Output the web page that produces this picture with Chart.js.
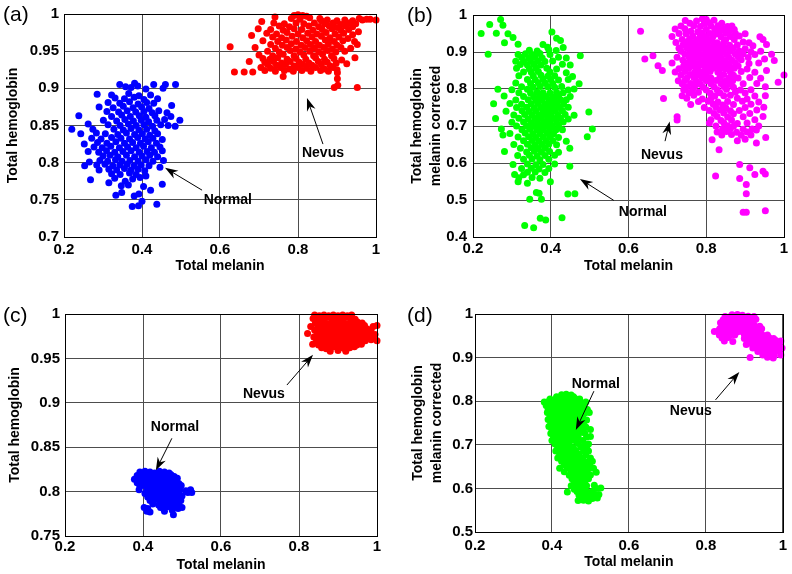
<!DOCTYPE html>
<html>
<head>
<meta charset="utf-8">
<script src="https://cdn.jsdelivr.net/npm/chart.js@4.4.0/dist/chart.umd.min.js"></script>
<style>
  html, body { margin: 0; padding: 0; background: #fff; }
  body { width: 792px; height: 574px; position: relative; overflow: hidden; }
  canvas { position: absolute; }
  .tag { position: absolute; font: 21px "Liberation Sans", Arial, sans-serif; line-height: 24px; color: #000; }
</style>
</head>
<body>
<canvas id="chart-a" width="396" height="287" style="left:0;top:0"></canvas>
<canvas id="chart-b" width="396" height="287" style="left:396px;top:0"></canvas>
<canvas id="chart-c" width="396" height="287" style="left:0;top:287px"></canvas>
<canvas id="chart-d" width="396" height="287" style="left:396px;top:287px"></canvas>
<div class="tag" style="left:3px;top:2px">(a)</div>
<div class="tag" style="left:407px;top:3px">(b)</div>
<div class="tag" style="left:3px;top:303px">(c)</div>
<div class="tag" style="left:407px;top:303px">(d)</div>
<script>
// [total melanin, total hemoglobin] pairs

const normalA = [
  [0.343,0.905],[0.381,0.907],[0.43,0.905],[0.46,0.905],[0.486,0.905],
  [0.358,0.902],[0.372,0.901],[0.389,0.903],[0.41,0.899],[0.454,0.9],
  [0.285,0.892],[0.322,0.891],[0.366,0.893],[0.392,0.89],[0.422,0.891],
  [0.331,0.887],[0.355,0.886],[0.38,0.888],[0.405,0.885],[0.44,0.886],
  [0.313,0.881],[0.343,0.88],[0.368,0.882],[0.39,0.879],[0.412,0.881],[0.43,0.88],
  [0.29,0.875],[0.326,0.874],[0.352,0.876],[0.377,0.874],[0.399,0.875],[0.418,0.873],[0.476,0.877],
  [0.31,0.869],[0.34,0.868],[0.362,0.87],[0.384,0.868],[0.405,0.869],[0.426,0.867],[0.443,0.87],[0.464,0.867],
  [0.238,0.863],[0.322,0.862],[0.348,0.864],[0.37,0.862],[0.393,0.863],[0.41,0.861],[0.433,0.863],[0.474,0.862],
  [0.262,0.852],[0.301,0.857],[0.335,0.856],[0.356,0.858],[0.378,0.856],[0.398,0.857],[0.417,0.855],[0.438,0.857],[0.458,0.858],[0.497,0.857],
  [0.313,0.851],[0.344,0.85],[0.365,0.852],[0.385,0.85],[0.405,0.851],[0.427,0.849],[0.448,0.851],[0.467,0.85],
  [0.22,0.845],[0.274,0.845],[0.328,0.845],[0.352,0.844],[0.372,0.846],[0.392,0.844],[0.412,0.845],[0.433,0.843],[0.485,0.849],
  [0.243,0.839],[0.283,0.84],[0.306,0.839],[0.338,0.838],[0.36,0.84],[0.381,0.838],[0.401,0.839],[0.42,0.837],[0.44,0.839],
  [0.271,0.833],[0.295,0.832],[0.322,0.834],[0.346,0.833],[0.368,0.832],[0.389,0.834],[0.408,0.832],[0.428,0.833],[0.452,0.831],
  [0.252,0.825],[0.286,0.827],[0.31,0.826],[0.333,0.828],[0.355,0.826],[0.376,0.827],[0.396,0.826],[0.416,0.828],[0.437,0.826],
  [0.277,0.821],[0.298,0.82],[0.32,0.822],[0.342,0.82],[0.363,0.821],[0.385,0.82],[0.404,0.822],[0.424,0.82],[0.446,0.821],
  [0.262,0.815],[0.289,0.814],[0.309,0.816],[0.33,0.814],[0.351,0.815],[0.372,0.816],[0.393,0.814],[0.413,0.815],[0.432,0.814],[0.452,0.816],
  [0.3,0.809],[0.318,0.81],[0.338,0.808],[0.36,0.81],[0.381,0.808],[0.4,0.809],[0.42,0.81],[0.44,0.808],
  [0.265,0.801],[0.292,0.803],[0.312,0.802],[0.332,0.804],[0.349,0.802],[0.369,0.803],[0.39,0.802],[0.41,0.804],[0.428,0.802],[0.455,0.803],
  [0.253,0.796],[0.284,0.797],[0.305,0.798],[0.325,0.796],[0.343,0.797],[0.362,0.798],[0.38,0.796],[0.398,0.797],[0.418,0.796],[0.446,0.794],
  [0.29,0.79],[0.315,0.791],[0.335,0.79],[0.355,0.792],[0.372,0.79],[0.39,0.791],[0.407,0.789],
  [0.322,0.785],[0.344,0.784],[0.368,0.786],[0.385,0.784],[0.41,0.782],
  [0.268,0.777],[0.33,0.779],[0.376,0.778],[0.395,0.78],
  [0.315,0.773],[0.357,0.775],[0.452,0.771],[0.347,0.769],[0.365,0.77],[0.404,0.768],
  [0.422,0.763],[0.333,0.756],[0.348,0.76],[0.392,0.758],
  [0.38,0.755],[0.4,0.748],[0.438,0.744],[0.375,0.741],[0.391,0.742]
];

const nevusA = [
  [0.79,0.998],[0.8,0.999],[0.812,0.998],[0.822,0.997],
  [0.741,0.996],[0.783,0.994],[0.805,0.993],[0.83,0.995],[0.856,0.994],[0.957,0.994],[0.976,0.993],
  [0.86,0.991],[0.875,0.992],[0.9,0.991],[0.92,0.992],[0.94,0.991],[0.965,0.992],[0.985,0.993],[1.0,0.992],
  [0.738,0.988],[0.765,0.987],[0.795,0.988],[0.815,0.987],[0.842,0.988],[0.868,0.987],[0.89,0.988],[0.91,0.986],[0.93,0.988],[0.948,0.987],
  [0.707,0.99],[0.752,0.984],[0.778,0.983],[0.828,0.984],[0.853,0.983],[0.88,0.984],[0.9,0.982],[0.922,0.984],[0.94,0.983],
  [0.698,0.98],[0.73,0.979],[0.762,0.978],[0.79,0.98],[0.81,0.979],[0.838,0.978],[0.862,0.979],[0.887,0.98],[0.91,0.978],[0.93,0.979],[0.955,0.976],
  [0.72,0.974],[0.745,0.973],[0.772,0.975],[0.8,0.973],[0.825,0.974],[0.848,0.973],[0.872,0.975],[0.895,0.973],[0.917,0.974],[0.94,0.972],
  [0.681,0.971],[0.735,0.969],[0.758,0.968],[0.785,0.97],[0.812,0.968],[0.836,0.969],[0.86,0.97],[0.882,0.968],[0.905,0.969],[0.928,0.967],
  [0.71,0.964],[0.748,0.963],[0.77,0.965],[0.796,0.963],[0.822,0.964],[0.845,0.963],[0.87,0.965],[0.893,0.963],[0.915,0.964],[0.945,0.963],
  [0.73,0.959],[0.76,0.958],[0.783,0.96],[0.808,0.958],[0.832,0.959],[0.855,0.958],[0.878,0.96],[0.9,0.958],[0.952,0.959],
  [0.626,0.956],[0.69,0.955],[0.742,0.954],[0.772,0.955],[0.795,0.953],[0.818,0.955],[0.842,0.954],[0.866,0.955],[0.888,0.953],[0.91,0.955],[0.935,0.954],
  [0.722,0.95],[0.752,0.949],[0.78,0.951],[0.805,0.949],[0.83,0.95],[0.853,0.949],[0.876,0.951],[0.897,0.949],[0.92,0.95],
  [0.7,0.945],[0.735,0.944],[0.762,0.946],[0.79,0.944],[0.815,0.945],[0.84,0.944],[0.863,0.946],[0.886,0.944],[0.946,0.941],
  [0.71,0.94],[0.728,0.939],[0.748,0.941],[0.772,0.939],[0.795,0.94],[0.82,0.939],[0.845,0.941],[0.868,0.939],[0.892,0.94],[0.912,0.938],
  [0.675,0.936],[0.715,0.935],[0.737,0.936],[0.758,0.934],[0.78,0.936],[0.803,0.935],[0.828,0.934],[0.852,0.936],[0.875,0.935],[0.898,0.934],
  [0.722,0.932],[0.745,0.931],[0.768,0.932],[0.79,0.93],[0.812,0.932],[0.836,0.931],[0.86,0.932],[0.883,0.93],[0.925,0.933],
  [0.705,0.928],[0.73,0.927],[0.755,0.928],[0.778,0.926],[0.8,0.928],[0.822,0.927],[0.845,0.928],[0.868,0.926],[0.89,0.928],
  [0.715,0.924],[0.742,0.923],[0.765,0.924],[0.788,0.923],[0.81,0.924],[0.833,0.923],[0.858,0.924],[0.878,0.923],[0.9,0.925],
  [0.637,0.922],[0.662,0.922],[0.684,0.922],[0.901,0.921],
  [0.762,0.916],[0.901,0.913],[0.902,0.904],[0.893,0.901],[0.952,0.901]
];

const normalB = [
  [0.271,0.988],[0.243,0.974],[0.277,0.972],[0.403,0.954],[0.221,0.95],[0.26,0.951],[0.29,0.949],[0.303,0.939],[0.415,0.937],[0.425,0.931],
  [0.281,0.925],[0.316,0.921],[0.38,0.92],[0.432,0.912],[0.392,0.913],
  [0.345,0.905],[0.365,0.903],[0.395,0.906],[0.414,0.904],
  [0.239,0.894],[0.316,0.893],[0.335,0.895],[0.352,0.893],[0.372,0.896],[0.398,0.893],[0.476,0.89],
  [0.325,0.885],[0.343,0.884],[0.36,0.886],[0.378,0.884],[0.42,0.886],[0.44,0.884],
  [0.31,0.875],[0.33,0.874],[0.348,0.876],[0.366,0.875],[0.385,0.874],[0.405,0.876],
  [0.322,0.866],[0.34,0.865],[0.357,0.867],[0.375,0.865],[0.43,0.867],[0.45,0.865],
  [0.312,0.856],[0.345,0.855],[0.362,0.857],[0.39,0.856],[0.415,0.854],
  [0.33,0.846],[0.35,0.845],[0.368,0.847],[0.398,0.846],[0.44,0.844],
  [0.318,0.836],[0.355,0.835],[0.375,0.837],[0.393,0.835],[0.41,0.836],[0.456,0.834],
  [0.34,0.826],[0.36,0.825],[0.38,0.827],[0.4,0.826],[0.42,0.824],[0.445,0.826],
  [0.31,0.816],[0.348,0.815],[0.368,0.817],[0.386,0.816],[0.405,0.815],[0.473,0.814],
  [0.325,0.806],[0.355,0.805],[0.373,0.807],[0.392,0.806],[0.41,0.805],[0.428,0.807],
  [0.264,0.799],[0.3,0.798],[0.34,0.799],[0.445,0.797],[0.46,0.8],
  [0.318,0.79],[0.348,0.789],[0.365,0.791],[0.38,0.79],[0.398,0.789],[0.415,0.791],[0.432,0.79],
  [0.28,0.781],[0.33,0.78],[0.356,0.779],[0.372,0.781],[0.388,0.78],[0.405,0.779],[0.42,0.781],[0.45,0.78],
  [0.31,0.77],[0.342,0.771],[0.362,0.769],[0.378,0.77],[0.395,0.771],[0.41,0.769],[0.426,0.77],[0.44,0.771],
  [0.253,0.76],[0.295,0.761],[0.325,0.759],[0.35,0.76],[0.368,0.761],[0.385,0.759],[0.4,0.76],[0.416,0.761],[0.433,0.759],
  [0.312,0.75],[0.338,0.751],[0.357,0.749],[0.374,0.75],[0.39,0.751],[0.405,0.749],[0.422,0.75],[0.445,0.751],
  [0.285,0.74],[0.326,0.741],[0.345,0.739],[0.362,0.74],[0.38,0.741],[0.396,0.739],[0.412,0.74],[0.43,0.741],[0.498,0.738],
  [0.305,0.73],[0.333,0.731],[0.352,0.729],[0.37,0.73],[0.385,0.731],[0.4,0.729],[0.418,0.73],[0.437,0.731],[0.46,0.729],
  [0.258,0.72],[0.318,0.721],[0.342,0.719],[0.36,0.72],[0.376,0.721],[0.392,0.719],[0.408,0.72],[0.425,0.721],[0.445,0.719],
  [0.3,0.71],[0.33,0.711],[0.35,0.709],[0.366,0.71],[0.382,0.711],[0.398,0.709],[0.415,0.71],[0.432,0.711],
  [0.312,0.7],[0.338,0.701],[0.356,0.699],[0.372,0.7],[0.388,0.701],[0.404,0.699],[0.42,0.7],
  [0.273,0.692],[0.507,0.692],
  [0.326,0.69],[0.346,0.691],[0.364,0.689],[0.38,0.69],[0.397,0.691],[0.413,0.689],[0.43,0.69],
  [0.295,0.68],[0.334,0.681],[0.354,0.679],[0.372,0.68],[0.39,0.681],[0.407,0.679],
  [0.277,0.676],[0.494,0.671],
  [0.316,0.67],[0.343,0.671],[0.362,0.669],[0.38,0.67],[0.397,0.671],[0.42,0.669],
  [0.33,0.66],[0.352,0.661],[0.37,0.659],[0.388,0.66],[0.405,0.661],[0.44,0.659],
  [0.305,0.65],[0.34,0.651],[0.36,0.649],[0.378,0.65],[0.395,0.651],[0.415,0.649],
  [0.322,0.64],[0.35,0.641],[0.368,0.639],[0.386,0.64],[0.449,0.64],
  [0.281,0.631],[0.338,0.63],[0.358,0.632],[0.376,0.63],[0.397,0.631],[0.42,0.629],
  [0.315,0.62],[0.345,0.621],[0.365,0.619],[0.385,0.62],[0.41,0.621],
  [0.33,0.61],[0.352,0.611],[0.372,0.609],[0.395,0.61],
  [0.303,0.596],[0.34,0.597],[0.362,0.595],[0.38,0.596],[0.41,0.597],[0.449,0.591],
  [0.325,0.585],[0.35,0.586],[0.37,0.584],[0.395,0.585],
  [0.34,0.575],[0.36,0.576],[0.385,0.574],[0.307,0.569],[0.33,0.568],
  [0.318,0.56],[0.352,0.561],[0.372,0.559],[0.316,0.549],[0.399,0.549],[0.34,0.545],
  [0.363,0.52],[0.37,0.518],[0.462,0.517],[0.444,0.516],[0.346,0.502],[0.376,0.502],
  [0.429,0.452],[0.373,0.451],[0.387,0.446],[0.333,0.431],[0.356,0.425]
];

const nevusB = [
  [0.79,0.99],[0.8,0.988],[0.746,0.985],[0.775,0.984],[0.82,0.986],
  [0.758,0.978],[0.795,0.977],[0.808,0.979],[0.84,0.978],
  [0.735,0.97],[0.768,0.971],[0.785,0.969],[0.812,0.97],[0.83,0.971],[0.855,0.969],[0.866,0.97],
  [0.72,0.962],[0.745,0.963],[0.8,0.961],[0.822,0.962],[0.845,0.963],[0.872,0.961],
  [0.631,0.956],[0.76,0.956],[0.778,0.955],[0.835,0.957],[0.858,0.955],
  [0.73,0.95],[0.748,0.949],[0.79,0.951],[0.81,0.95],[0.826,0.949],[0.85,0.951],[0.875,0.95],[0.9,0.949],
  [0.712,0.942],[0.765,0.943],[0.784,0.941],[0.8,0.942],[0.818,0.943],[0.838,0.941],[0.862,0.942],[0.885,0.943],[0.938,0.941],
  [0.738,0.934],[0.757,0.935],[0.775,0.933],[0.795,0.934],[0.815,0.935],[0.85,0.933],[0.872,0.934],[0.946,0.934],
  [0.722,0.926],[0.748,0.927],[0.768,0.925],[0.788,0.926],[0.806,0.927],[0.828,0.925],[0.845,0.926],[0.895,0.927],[0.91,0.925],
  [0.955,0.92],
  [0.74,0.918],[0.76,0.919],[0.778,0.917],[0.798,0.918],[0.82,0.919],[0.838,0.917],[0.86,0.918],[0.88,0.919],[0.92,0.917],
  [0.73,0.91],[0.75,0.911],[0.77,0.909],[0.79,0.91],[0.81,0.911],[0.83,0.909],[0.85,0.91],[0.87,0.911],[0.9,0.909],
  [0.735,0.902],[0.758,0.903],[0.78,0.901],[0.8,0.902],[0.82,0.903],[0.842,0.901],[0.862,0.902],[0.885,0.903],[0.915,0.901],[0.94,0.902],
  [0.745,0.894],[0.768,0.895],[0.79,0.893],[0.81,0.894],[0.83,0.895],[0.852,0.893],[0.875,0.894],[0.895,0.895],[0.925,0.893],[0.968,0.894],
  [0.663,0.89],
  [0.725,0.886],[0.755,0.887],[0.778,0.885],[0.8,0.886],[0.82,0.887],[0.838,0.885],[0.858,0.886],[0.882,0.887],[0.908,0.885],
  [0.642,0.881],[0.95,0.881],
  [0.74,0.878],[0.765,0.879],[0.788,0.877],[0.808,0.878],[0.826,0.879],[0.845,0.877],[0.866,0.878],[0.89,0.879],[0.975,0.877],
  [0.712,0.87],[0.752,0.871],[0.775,0.869],[0.795,0.87],[0.815,0.871],[0.833,0.869],[0.852,0.87],[0.875,0.871],[0.91,0.869],[0.935,0.87],
  [0.676,0.863],[0.742,0.863],[0.765,0.862],[0.785,0.864],[0.805,0.863],[0.822,0.862],[0.84,0.864],[0.86,0.863],[0.882,0.862],
  [0.73,0.855],[0.755,0.856],[0.778,0.854],[0.798,0.855],[0.818,0.856],[0.835,0.854],[0.85,0.855],[0.872,0.856],[0.905,0.854],
  [0.687,0.85],[0.955,0.85],
  [0.72,0.846],[0.745,0.847],[0.77,0.845],[0.79,0.846],[0.81,0.847],[0.83,0.845],[0.862,0.846],[0.89,0.847],[0.925,0.845],
  [0.735,0.838],[0.758,0.839],[0.782,0.837],[0.8,0.838],[0.845,0.839],[0.87,0.837],[1.0,0.838],
  [0.75,0.83],[0.768,0.831],[0.79,0.829],[0.812,0.83],[0.835,0.831],[0.858,0.829],[0.882,0.83],[0.912,0.831],[0.94,0.829],
  [0.728,0.822],[0.745,0.823],[0.775,0.821],[0.8,0.822],[0.825,0.823],[0.848,0.821],[0.868,0.822],
  [0.985,0.818],
  [0.738,0.814],[0.76,0.815],[0.785,0.813],[0.812,0.814],[0.838,0.815],[0.86,0.813],[0.895,0.814],[0.93,0.815],
  [0.75,0.806],[0.77,0.807],[0.792,0.805],[0.82,0.806],[0.845,0.807],[0.87,0.805],[0.952,0.806],
  [0.742,0.798],[0.765,0.799],[0.8,0.797],[0.828,0.798],[0.852,0.799],[0.888,0.797],[0.915,0.798],
  [0.755,0.79],[0.78,0.791],[0.81,0.789],[0.835,0.79],[0.875,0.791],[0.9,0.789],
  [0.738,0.782],[0.768,0.783],[0.822,0.781],[0.845,0.782],[0.862,0.783],[0.925,0.781],[0.952,0.782],
  [0.69,0.774],[0.75,0.775],[0.79,0.773],[0.812,0.774],[0.88,0.775],[0.905,0.773],
  [0.78,0.766],[0.805,0.767],[0.83,0.765],[0.855,0.766],[0.893,0.767],[0.935,0.765],
  [0.76,0.758],[0.818,0.759],[0.842,0.757],[0.87,0.758],[0.915,0.759],
  [0.795,0.75],[0.825,0.751],[0.85,0.749],[0.9,0.75],[0.948,0.751],
  [0.808,0.742],[0.835,0.743],[0.862,0.741],[0.885,0.742],[0.93,0.743],
  [0.82,0.734],[0.845,0.735],[0.87,0.733],[0.912,0.734],
  [0.725,0.725],[0.828,0.726],[0.855,0.724],[0.895,0.725],[0.946,0.726],
  [0.725,0.716],[0.812,0.717],[0.838,0.715],[0.865,0.716],[0.925,0.717],
  [0.808,0.708],[0.845,0.709],[0.88,0.707],[0.905,0.708],
  [0.825,0.7],[0.855,0.701],[0.87,0.699],[0.935,0.7],
  [0.842,0.692],[0.862,0.693],[0.895,0.691],[0.918,0.692],[0.929,0.689],
  [0.828,0.684],[0.852,0.685],[0.878,0.683],[0.905,0.684],
  [0.84,0.676],[0.865,0.677],[0.89,0.675],[0.915,0.676],
  [0.953,0.669],[0.815,0.663],[0.9,0.664],[0.88,0.66],[0.929,0.654],[0.833,0.636],
  [0.886,0.596],[0.912,0.587],[0.946,0.578],[0.925,0.569],[0.952,0.57],[0.824,0.565],[0.886,0.558],
  [0.903,0.542],[0.903,0.517],[0.895,0.467],[0.903,0.467],[0.952,0.471]
];

const normalC = [
  [0.392,0.822],[0.405,0.823],[0.418,0.822],[0.43,0.821],[0.442,0.823],[0.455,0.822],[0.467,0.821],
  [0.385,0.818],[0.398,0.817],[0.41,0.818],[0.423,0.819],[0.435,0.818],[0.448,0.817],[0.46,0.818],[0.472,0.819],[0.48,0.817],
  [0.378,0.814],[0.39,0.815],[0.402,0.814],[0.415,0.813],[0.428,0.814],[0.44,0.815],[0.452,0.814],[0.465,0.813],[0.477,0.814],[0.488,0.815],
  [0.385,0.81],[0.396,0.809],[0.408,0.81],[0.42,0.811],[0.432,0.81],[0.445,0.809],[0.457,0.81],[0.47,0.811],[0.482,0.81],[0.492,0.809],
  [0.392,0.806],[0.403,0.807],[0.415,0.806],[0.427,0.805],[0.44,0.806],[0.452,0.807],[0.464,0.806],[0.476,0.805],[0.488,0.806],[0.498,0.807],
  [0.39,0.802],[0.41,0.801],[0.42,0.802],[0.433,0.803],[0.446,0.802],[0.458,0.801],[0.47,0.802],[0.483,0.803],[0.495,0.802],[0.51,0.801],[0.522,0.802],
  [0.515,0.799],[0.525,0.799],
  [0.405,0.798],[0.417,0.797],[0.43,0.798],[0.442,0.799],[0.455,0.798],[0.467,0.797],[0.48,0.798],[0.492,0.799],
  [0.412,0.794],[0.425,0.793],[0.437,0.794],[0.45,0.795],[0.462,0.794],[0.475,0.793],[0.488,0.794],[0.5,0.795],
  [0.418,0.79],[0.432,0.791],[0.445,0.79],[0.458,0.789],[0.47,0.79],[0.483,0.791],[0.497,0.79],
  [0.425,0.786],[0.44,0.785],[0.455,0.786],[0.468,0.787],[0.48,0.786],[0.492,0.785],
  [0.403,0.782],[0.412,0.781],[0.445,0.782],[0.462,0.783],[0.475,0.782],[0.49,0.781],[0.5,0.782],
  [0.41,0.778],[0.418,0.777],[0.455,0.778],[0.475,0.779],[0.478,0.774]
];

const nevusC = [
  [0.84,0.999],[0.852,0.998],[0.864,0.999],[0.876,0.998],[0.888,0.999],[0.9,0.998],[0.912,0.999],[0.924,0.998],[0.935,0.999],
  [0.836,0.995],[0.848,0.994],[0.86,0.995],[0.872,0.996],[0.884,0.995],[0.896,0.994],[0.908,0.995],[0.92,0.996],[0.932,0.995],[0.944,0.994],
  [0.842,0.99],[0.854,0.991],[0.866,0.99],[0.878,0.989],[0.89,0.99],[0.902,0.991],[0.914,0.99],[0.926,0.989],[0.938,0.99],[0.95,0.991],[0.962,0.99],
  [0.83,0.986],[0.848,0.985],[0.86,0.986],[0.872,0.987],[0.884,0.986],[0.896,0.985],[0.908,0.986],[0.92,0.987],[0.932,0.986],[0.944,0.985],[0.956,0.986],[0.968,0.987],[0.99,0.986],[1.0,0.987],
  [0.84,0.982],[0.854,0.981],[0.866,0.982],[0.878,0.983],[0.89,0.982],[0.902,0.981],[0.914,0.982],[0.926,0.983],[0.938,0.982],[0.95,0.981],[0.962,0.982],[0.975,0.983],[0.985,0.982],
  [0.822,0.978],[0.846,0.977],[0.86,0.978],[0.872,0.979],[0.884,0.978],[0.896,0.977],[0.908,0.978],[0.92,0.979],[0.932,0.978],[0.944,0.977],[0.956,0.978],[0.968,0.979],[0.98,0.978],[0.995,0.977],
  [0.838,0.974],[0.852,0.973],[0.866,0.974],[0.878,0.975],[0.89,0.974],[0.902,0.973],[0.914,0.974],[0.926,0.975],[0.938,0.974],[0.95,0.973],[0.962,0.974],[0.975,0.975],[0.99,0.974],
  [0.845,0.97],[0.858,0.969],[0.87,0.97],[0.882,0.971],[0.894,0.97],[0.906,0.969],[0.918,0.97],[0.93,0.971],[0.942,0.97],[0.955,0.969],[0.97,0.97],[0.985,0.971],[1.0,0.97],
  [0.835,0.966],[0.85,0.965],[0.864,0.966],[0.876,0.967],[0.888,0.966],[0.9,0.965],[0.912,0.966],[0.924,0.967],[0.936,0.966],[0.948,0.965],[0.96,0.966],
  [0.858,0.962],[0.87,0.961],[0.882,0.962],[0.894,0.963],[0.906,0.962],[0.918,0.961],[0.93,0.962],[0.942,0.963],
  [0.88,0.958],[0.9,0.959],[0.92,0.958]
];

const normalD = [
  [0.425,0.815],[0.437,0.816],[0.45,0.814],
  [0.412,0.81],[0.43,0.809],[0.443,0.811],[0.456,0.81],
  [0.395,0.805],[0.408,0.804],[0.42,0.806],[0.433,0.805],[0.446,0.804],[0.46,0.806],[0.472,0.805],
  [0.38,0.798],[0.39,0.799],[0.402,0.797],[0.414,0.798],[0.426,0.799],[0.438,0.797],[0.45,0.798],[0.462,0.799],[0.475,0.797],[0.488,0.798],
  [0.385,0.79],[0.398,0.791],[0.41,0.789],[0.422,0.79],[0.434,0.791],[0.446,0.789],[0.458,0.79],[0.47,0.791],[0.482,0.789],
  [0.39,0.782],[0.403,0.783],[0.415,0.781],[0.428,0.782],[0.44,0.783],[0.452,0.781],[0.464,0.782],[0.476,0.783],[0.492,0.781],
  [0.388,0.774],[0.4,0.775],[0.412,0.773],[0.424,0.774],[0.436,0.775],[0.448,0.773],[0.46,0.774],[0.472,0.775],[0.485,0.773],[0.497,0.774],
  [0.395,0.766],[0.407,0.767],[0.419,0.765],[0.431,0.766],[0.443,0.767],[0.455,0.765],[0.467,0.766],[0.48,0.767],
  [0.39,0.758],[0.402,0.759],[0.414,0.757],[0.426,0.758],[0.438,0.759],[0.45,0.757],[0.462,0.758],[0.474,0.759],[0.49,0.757],
  [0.397,0.75],[0.41,0.751],[0.422,0.749],[0.434,0.75],[0.446,0.751],[0.458,0.749],[0.47,0.75],[0.482,0.751],
  [0.392,0.742],[0.404,0.743],[0.416,0.741],[0.428,0.742],[0.44,0.743],[0.452,0.741],[0.464,0.742],[0.476,0.743],[0.488,0.741],
  [0.4,0.734],[0.412,0.735],[0.424,0.733],[0.436,0.734],[0.448,0.735],[0.46,0.733],[0.475,0.734],[0.5,0.735],
  [0.397,0.726],[0.41,0.727],[0.422,0.725],[0.434,0.726],[0.446,0.727],[0.458,0.725],[0.47,0.726],[0.485,0.727],
  [0.404,0.718],[0.416,0.719],[0.428,0.717],[0.44,0.718],[0.455,0.719],[0.468,0.717],[0.49,0.718],[0.5,0.719],
  [0.4,0.71],[0.412,0.711],[0.425,0.709],[0.438,0.71],[0.45,0.711],[0.462,0.709],[0.48,0.71],
  [0.408,0.702],[0.42,0.703],[0.432,0.701],[0.445,0.702],[0.468,0.703],[0.485,0.701],[0.495,0.702],
  [0.415,0.694],[0.428,0.695],[0.44,0.693],[0.455,0.694],[0.475,0.695],[0.49,0.693],
  [0.41,0.686],[0.422,0.687],[0.435,0.685],[0.45,0.686],[0.462,0.687],[0.482,0.685],[0.495,0.686],
  [0.42,0.678],[0.432,0.679],[0.445,0.677],[0.458,0.678],[0.47,0.679],[0.488,0.677],
  [0.415,0.67],[0.43,0.671],[0.442,0.669],[0.455,0.67],[0.468,0.671],[0.48,0.669],[0.5,0.67],
  [0.425,0.662],[0.44,0.663],[0.452,0.661],[0.465,0.662],[0.478,0.663],[0.492,0.661],[0.505,0.662],
  [0.432,0.654],[0.446,0.655],[0.46,0.653],[0.472,0.654],[0.485,0.655],[0.498,0.653],
  [0.42,0.646],[0.44,0.647],[0.455,0.645],[0.47,0.646],[0.482,0.647],[0.495,0.645],[0.508,0.646],
  [0.432,0.638],[0.45,0.639],[0.465,0.637],[0.478,0.638],[0.49,0.639],[0.515,0.637],
  [0.445,0.63],[0.46,0.631],[0.472,0.629],[0.486,0.63],[0.5,0.631],
  [0.452,0.622],[0.467,0.623],[0.48,0.621],[0.495,0.622],
  [0.458,0.614],[0.472,0.615],[0.485,0.613],
  [0.45,0.606],[0.465,0.607],[0.478,0.605],[0.49,0.606],[0.51,0.607],
  [0.515,0.6],[0.527,0.601],[0.458,0.598],[0.472,0.599],[0.485,0.597],
  [0.44,0.592],[0.465,0.593],[0.478,0.591],[0.492,0.592],[0.505,0.593],
  [0.47,0.585],[0.485,0.586],[0.5,0.584],[0.512,0.585],[0.522,0.586],
  [0.475,0.578],[0.49,0.579],[0.505,0.577],[0.518,0.578],
  [0.468,0.572],[0.482,0.573],[0.495,0.571]
];

const nevusD = [
  [0.868,0.998],[0.882,0.999],[0.895,0.997],
  [0.85,0.994],[0.862,0.993],[0.874,0.995],[0.886,0.994],[0.898,0.993],[0.91,0.995],[0.925,0.994],
  [0.845,0.987],[0.857,0.988],[0.869,0.986],[0.881,0.987],[0.893,0.988],[0.905,0.986],[0.918,0.987],[0.93,0.988],
  [0.838,0.98],[0.85,0.981],[0.862,0.979],[0.874,0.98],[0.886,0.981],[0.898,0.979],[0.91,0.98],[0.922,0.981],
  [0.842,0.973],[0.854,0.974],[0.866,0.972],[0.878,0.973],[0.89,0.974],[0.902,0.972],[0.914,0.973],[0.926,0.974],[0.94,0.972],
  [0.836,0.966],[0.848,0.967],[0.86,0.965],[0.872,0.966],[0.884,0.967],[0.896,0.965],[0.908,0.966],[0.92,0.967],[0.932,0.965],[0.945,0.966],
  [0.822,0.96],[0.832,0.961],[0.845,0.959],[0.857,0.96],[0.869,0.961],[0.881,0.959],[0.893,0.96],[0.905,0.961],[0.917,0.959],[0.929,0.96],[0.942,0.961],
  [0.835,0.952],[0.85,0.953],[0.862,0.951],[0.875,0.952],[0.9,0.953],[0.912,0.951],[0.924,0.952],[0.936,0.953],[0.948,0.951],[0.96,0.952],
  [0.842,0.945],[0.858,0.946],[0.9,0.944],[0.915,0.945],[0.928,0.946],[0.94,0.944],[0.952,0.945],[0.964,0.946],[0.976,0.944],
  [0.848,0.938],[0.87,0.937],[0.912,0.939],[0.922,0.938],[0.934,0.937],[0.946,0.939],[0.958,0.938],[0.97,0.937],[0.982,0.939],[0.995,0.938],
  [0.905,0.93],[0.92,0.931],[0.93,0.929],[0.942,0.93],[0.954,0.931],[0.966,0.929],[0.978,0.93],[0.99,0.931],
  [0.922,0.922],[0.936,0.923],[0.948,0.921],[0.96,0.922],[0.972,0.923],[0.985,0.921],[0.998,0.922],
  [0.935,0.914],[0.95,0.915],[0.962,0.913],[0.975,0.914],[0.99,0.915],
  [0.948,0.906],[0.965,0.907],[0.978,0.905],[0.995,0.906],
  [0.915,0.9],[0.96,0.901],[0.975,0.899]
];

// arrows: label position, arrow tail, arrow tip (data units)
const notesA = [
  { label: 'Normal', at: [0.62, 0.749], from: [0.554, 0.763], to: [0.459, 0.793] },
  { label: 'Nevus', at: [0.864, 0.813], from: [0.864, 0.825], to: [0.823, 0.887] }
];
const notesB = [
  { label: 'Normal', at: [0.637, 0.467], from: [0.562, 0.499], to: [0.475, 0.557] },
  { label: 'Nevus', at: [0.686, 0.621], from: [0.694, 0.659], to: [0.706, 0.712] }
];
const notesC = [
  { label: 'Normal', at: [0.482, 0.873], from: [0.474, 0.86], to: [0.433, 0.824] },
  { label: 'Nevus', at: [0.71, 0.91], from: [0.769, 0.92], to: [0.836, 0.954] }
];
const notesD = [
  { label: 'Normal', at: [0.514, 0.839], from: [0.509, 0.823], to: [0.462, 0.734] },
  { label: 'Nevus', at: [0.761, 0.778], from: [0.825, 0.803], to: [0.887, 0.867] }
];

const FONT = '"Liberation Sans", Arial, Helvetica, sans-serif';

function annotate(notes) {
  return {
    id: 'arrowNotes',
    afterDatasetsDraw(chart) {
      const ctx = chart.ctx;
      const x = chart.scales.x;
      const y = chart.scales.y;
      ctx.save();
      ctx.strokeStyle = '#000';
      ctx.fillStyle = '#000';
      ctx.lineWidth = 1;
      for (const n of notes) {
        const x0 = x.getPixelForValue(n.from[0]), y0 = y.getPixelForValue(n.from[1]);
        const x1 = x.getPixelForValue(n.to[0]), y1 = y.getPixelForValue(n.to[1]);
        const a = Math.atan2(y1 - y0, x1 - x0);
        const c = Math.cos(a), s = Math.sin(a);
        ctx.beginPath();
        ctx.moveTo(x0, y0);
        ctx.lineTo(x1 - 8 * c, y1 - 8 * s);
        ctx.stroke();
        ctx.beginPath();
        ctx.moveTo(x1, y1);
        ctx.lineTo(x1 - 13 * c + 4.5 * s, y1 - 13 * s - 4.5 * c);
        ctx.lineTo(x1 - 9 * c, y1 - 9 * s);
        ctx.lineTo(x1 - 13 * c - 4.5 * s, y1 - 13 * s + 4.5 * c);
        ctx.closePath();
        ctx.fill();
        ctx.font = 'bold 14px ' + FONT;
        ctx.textAlign = 'center';
        ctx.textBaseline = 'middle';
        ctx.fillText(n.label, x.getPixelForValue(n.at[0]), y.getPixelForValue(n.at[1]));
      }
      const ca = chart.chartArea;
      ctx.strokeRect(Math.round(ca.left) + 0.5, Math.round(ca.top) + 0.5,
        Math.round(ca.right - ca.left), Math.round(ca.bottom - ca.top));
      ctx.restore();
    }
  };
}

// matlab style labels: 1, 0.9, 0.95 (no trailing zeros)
function plainTick(value) {
  return String(Number(value.toFixed(3)));
}

function makeChart(id, box, normal, nevus, colors, yMin, yStep, yTitle, notes) {
  const tickFont = { family: FONT, size: 15, weight: 'bold' };
  const titleFont = { family: FONT, size: 14, weight: 'bold' };
  const config = {
    type: 'scatter',
    data: {
      datasets: [
        { label: 'Normal', data: normal.map(p => ({ x: p[0], y: p[1] })), backgroundColor: colors[0], clip: false },
        { label: 'Nevus', data: nevus.map(p => ({ x: p[0], y: p[1] })), backgroundColor: colors[1], clip: false }
      ]
    },
    options: {
      responsive: false,
      animation: false,
      layout: { padding: { left: 0, top: box.top, right: 396 - box.right, bottom: 0 } },
      elements: { point: { radius: 3.5, borderWidth: 0, hoverRadius: 3.5 } },
      plugins: { legend: { display: false }, tooltip: { enabled: false } },
      scales: {
        x: {
          type: 'linear',
          min: 0.2,
          max: 1,
          ticks: { stepSize: 0.2, color: '#000', font: tickFont, padding: box.xPad, maxRotation: 0, callback: plainTick },
          grid: { color: '#4d4d4d', drawTicks: false },
          border: { display: false },
          title: { display: true, text: 'Total melanin', color: '#000', font: { ...titleFont, lineHeight: 1.2 }, padding: { top: 0, bottom: box.xTitle } },
          afterFit: scale => { scale.height = 287 - box.bottom; }
        },
        y: {
          type: 'linear',
          min: yMin,
          max: 1,
          ticks: { stepSize: yStep, color: '#000', font: tickFont, padding: box.yPad, callback: plainTick },
          grid: { color: '#4d4d4d', drawTicks: false },
          border: { display: false },
          title: { display: true, text: yTitle, color: '#000', font: { ...titleFont, lineHeight: 1.4 }, padding: { top: box.yTitle, bottom: 0 } },
          afterFit: scale => { scale.width = box.left; }
        }
      }
    },
    plugins: [annotate(notes)]
  };
  return new Chart(document.getElementById(id), config);
}

const chartA = makeChart('chart-a',
  { left: 64, right: 376, top: 12, bottom: 237, xPad: 4, yPad: 5, xTitle: 12, yTitle: 3 },
  normalA, nevusA, ['#0000ff', '#ff0000'], 0.7, 0.05, 'Total hemoglobin', notesA);

const chartB = makeChart('chart-b',
  { left: 77, right: 388, top: 12, bottom: 237, xPad: 3, yPad: 6, xTitle: 12, yTitle: 11 },
  normalB, nevusB, ['#00ff00', '#ff00ff'], 0.4, 0.1, ['Total hemoglobin', 'melanin corrected'], notesB);

const chartC = makeChart('chart-c',
  { left: 65, right: 377, top: 27, bottom: 249, xPad: 2, yPad: 5, xTitle: 0, yTitle: 5 },
  normalC, nevusC, ['#0000ff', '#ff0000'], 0.75, 0.05, 'Total hemoglobin', notesC);

const chartD = makeChart('chart-d',
  { left: 79, right: 390, top: 27, bottom: 245, xPad: 5, yPad: 2, xTitle: 3, yTitle: 12 },
  normalD, nevusD, ['#00ff00', '#ff00ff'], 0.5, 0.1, ['Total hemoglobin', 'melanin corrected'], notesD);
</script>
</body>
</html>
